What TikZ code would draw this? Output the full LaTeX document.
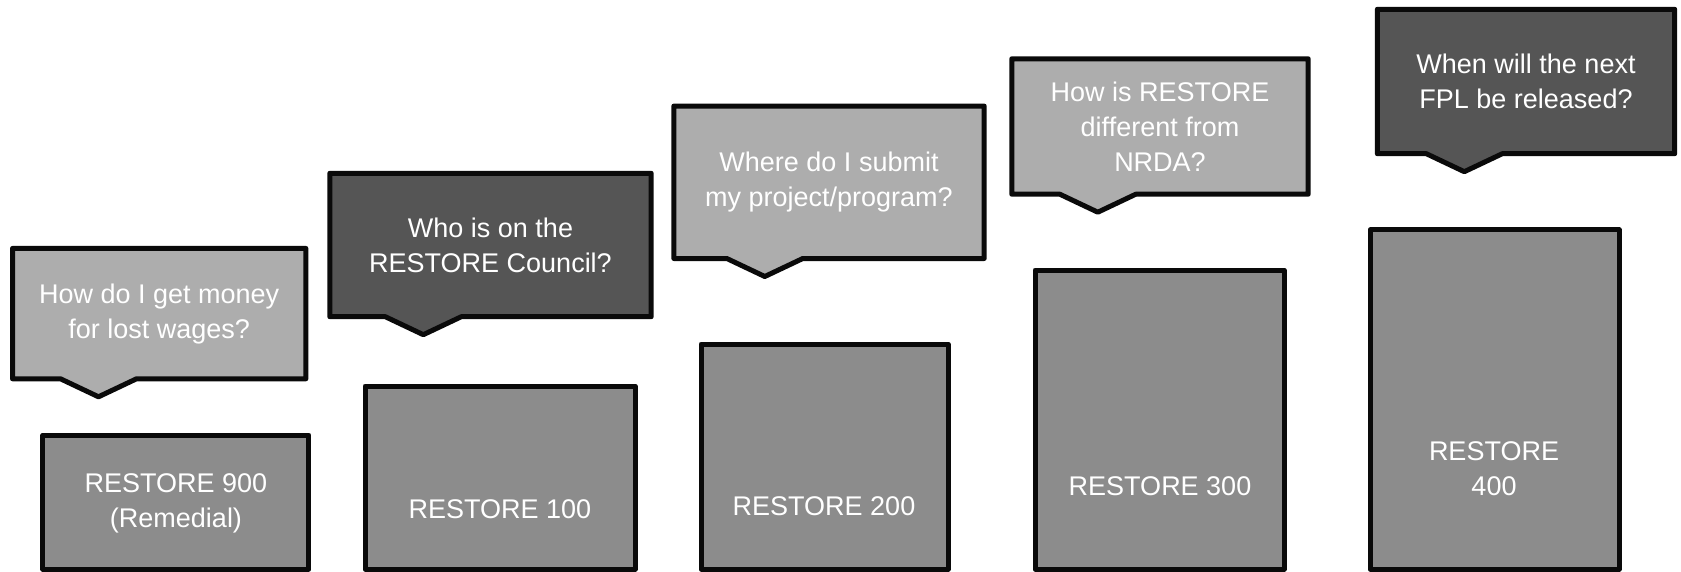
\documentclass[tikz,border=0pt]{standalone}
\usepackage{fontspec}
\setmainfont{Liberation Sans}
\usepackage{xcolor}
\usepackage{tikz}
\usetikzlibrary{calc,backgrounds}
\definecolor{lightq}{HTML}{ADADAD}
\definecolor{darkq}{HTML}{555555}
\definecolor{boxfill}{HTML}{8C8C8C}
\definecolor{edge}{HTML}{0A0A0A}
\tikzset{
  frame/.style={draw=edge, line width=5pt, line join=round},
  qText/.style={text=white, align=center, inner sep=0pt, font=\fontsize{27}{35}\selectfont},
  blockBox/.style={frame, inner sep=0pt},
  blockLbl/.style={text=white, align=center, inner sep=0pt, font=\fontsize{27}{35}\selectfont},
}
% name, fill, tip offset from the left
\newcommand{\Bubble}[3]{%
  \draw[frame, fill=#2] (#1.north west) -- (#1.north east) -- (#1.south east)
    -- ($(#1.south west)+(#3+38,0)$) -- ($(#1.south west)+(#3,18)$)
    -- ($(#1.south west)+(#3-38,0)$) -- (#1.south west) -- cycle;
}

\begin{document}
\begin{tikzpicture}[x=1pt, y=-1pt]
  \useasboundingbox (0,0) rectangle (1681,572);

  % program blocks
  \node[blockBox, fill=boxfill, minimum width=266, minimum height=134] (b900) at (175.9,502) {};
  \node[blockBox, fill=boxfill, minimum width=270, minimum height=183] (b100) at (500,477.5) {};
  \node[blockBox, fill=boxfill, minimum width=247, minimum height=225] (b200) at (824.5,456.5) {};
  \node[blockBox, fill=boxfill, minimum width=249, minimum height=299] (b300) at (1159.5,419.5) {};
  \node[blockBox, fill=boxfill, minimum width=249, minimum height=339] (b400) at (1494.5,399.5) {};

  \node[blockLbl] (l900) at (176,503.5) {RESTORE 900\\(Remedial)};
  \node[blockLbl] (l100) at (500,509) {RESTORE 100};
  \node[blockLbl] (l200) at (824,506) {RESTORE 200};
  \node[blockLbl] (l300) at (1160,486) {RESTORE 300};
  \node[blockLbl] (l400) at (1494,469) {RESTORE\\400};

  % questions
  \node[qText, minimum width=293, minimum height=130] (q900) at (159.2,313.6) {How do I get money\\for lost wages?};
  \node[qText, minimum width=321, minimum height=143] (q100) at (490.5,245) {Who is on the\\RESTORE Council?};
  \node[qText, minimum width=310, minimum height=152] (q200) at (829,182.3) {Where do I submit\\my project/program?};
  \node[qText, minimum width=296, minimum height=135] (q300) at (1160,126.5) {How is RESTORE\\different from\\NRDA?};
  \node[qText, minimum width=297, minimum height=144] (q400) at (1526,81.5) {When will the next\\FPL be released?};

  \begin{scope}[on background layer]
    \Bubble{q900}{lightq}{86}
    \Bubble{q100}{darkq}{93.5}
    \Bubble{q200}{lightq}{91}
    \Bubble{q300}{lightq}{86}
    \Bubble{q400}{darkq}{87}
  \end{scope}
\end{tikzpicture}
\end{document}
